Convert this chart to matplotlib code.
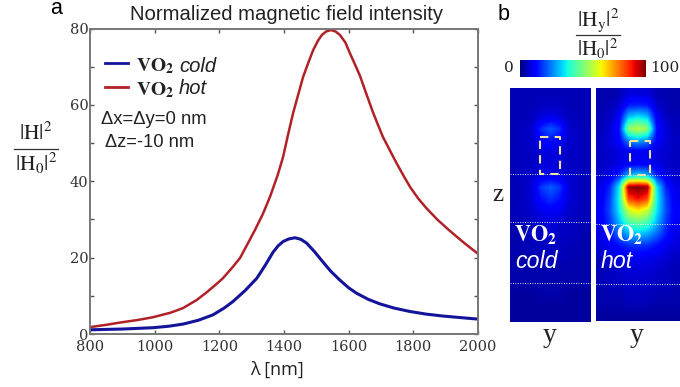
import numpy as np
import matplotlib
matplotlib.use("Agg")
import matplotlib.pyplot as plt

plt.rcParams['font.family'] = ['Liberation Sans', 'DejaVu Sans']
plt.rcParams['mathtext.fontset'] = 'stix'

W, H = 680, 387

# curves
hot_x = [800, 850, 893, 950, 995, 1050, 1088, 1130, 1162, 1190, 1211, 1240, 1264, 1295, 1310, 1335, 1357, 1380,
         1397, 1412, 1428, 1445, 1459, 1475, 1490, 1505, 1517, 1530, 1545, 1560, 1573, 1590, 1604, 1620, 1635,
         1655, 1675, 1690, 1706, 1728, 1749, 1770, 1790, 1815, 1842, 1875, 1913, 1955, 2000]
hot_y = [1.8, 2.4, 3.0, 3.7, 4.4, 5.6, 6.8, 8.9, 11.0, 13.0, 14.6, 17.4, 19.9, 24.8, 27.2, 31.5, 36.0, 41.5,
         46.3, 52.0, 57.8, 63.0, 67.3, 71.0, 74.3, 76.8, 78.3, 79.2, 79.6, 79.2, 78.3, 76.3, 73.5, 70.5, 67.6,
         62.8, 58.1, 54.9, 51.6, 48.0, 44.6, 41.4, 38.5, 35.5, 32.8, 29.9, 27.0, 24.0, 21.0]
cold_x = [800, 900, 995, 1045, 1088, 1135, 1180, 1215, 1242, 1280, 1316, 1342, 1366, 1382, 1397, 1415, 1434, 1452,
          1470, 1495, 1520, 1545, 1573, 1600, 1624, 1660, 1696, 1740, 1789, 1840, 1892, 1945, 2000]
cold_y = [1.1, 1.3, 1.65, 2.05, 2.6, 3.6, 5.0, 6.8, 8.5, 11.4, 14.6, 18.0, 21.4, 23.1, 24.2, 24.9, 25.2, 24.8,
          23.8, 21.5, 18.9, 16.4, 14.1, 12.1, 10.7, 9.1, 7.9, 6.8, 5.9, 5.2, 4.7, 4.3, 3.9]

# field maps, centre column out to the edge, 20 rows top to bottom
cold_map = [
    [5, 5, 5, 5, 5],
    [6, 6, 5, 5, 5],
    [10, 8, 6, 5, 5],
    [21, 17, 7, 6, 5],
    [14, 11, 7, 6, 5],
    [8, 8, 6, 6, 5],
    [8, 8, 6, 6, 5],
    [10, 9, 7, 6, 5],
    [22, 18, 8, 6, 5],
    [17, 14, 8, 6, 5],
    [11, 10, 7, 6, 5],
    [8, 7, 6, 5, 5],
    [7, 6, 6, 5, 4],
    [6, 6, 5, 5, 4],
    [5, 5, 5, 4, 4],
    [5, 4, 4, 4, 4],
    [4, 4, 4, 4, 4],
    [4, 4, 3, 3, 3],
    [3, 3, 3, 3, 3],
    [3, 3, 3, 3, 3],
]
hot_map = [
    [8, 8, 5, 4, 4],
    [16, 15, 7, 5, 4],
    [36, 32, 11, 6, 5],
    [58, 52, 14, 8, 5],
    [30, 26, 12, 8, 6],
    [10, 10, 8, 7, 6],
    [11, 11, 9, 7, 6],
    [34, 30, 16, 9, 7],
    [100, 98, 36, 16, 9],
    [90, 84, 38, 19, 10],
    [66, 60, 36, 20, 11],
    [48, 44, 31, 18, 10],
    [32, 30, 23, 15, 9],
    [18, 17, 14, 10, 8],
    [10, 10, 9, 8, 6],
    [8, 8, 7, 6, 5],
    [7, 7, 6, 6, 5],
    [6, 6, 5, 5, 4],
    [5, 5, 4, 4, 4],
    [3, 3, 3, 3, 3],
]
bar_values = np.linspace(0, 100, 256)


def box(x0, y0, x1, y1):
    return [x0 / W, 1 - y1 / H, (x1 - x0) / W, (y1 - y0) / H]


def put(x, y, s, **kw):
    kw.setdefault('ha', 'center')
    kw.setdefault('va', 'center')
    fig.text(x / W, 1 - y / H, s, **kw)


fig = plt.figure(figsize=(W / 100, H / 100), dpi=100)

# panel a
ax = fig.add_axes(box(90, 28.5, 478, 334))
ax.plot(hot_x, hot_y, color='#b02228', lw=1.8)
ax.plot(cold_x, cold_y, color='#14149a', lw=2.2)
ax.set_xlim(800, 2000)
ax.set_ylim(0, 80)
ax.set_xticks(range(800, 2001, 200))
ax.set_yticks(range(0, 81, 20))
ax.set_yticks(range(10, 80, 20), minor=True)
ax.tick_params(which='both', direction='in', top=True, right=True, length=3, width=1, color='#555555',
               labelcolor='#333333', labelsize=10.5)
ax.tick_params(axis='x', pad=4.5)
ax.tick_params(axis='y', pad=1)
for label in ax.get_xticklabels() + ax.get_yticklabels():
    label.set_family('DejaVu Serif')
for s in ax.spines.values():
    s.set_color('#777777')
    s.set_linewidth(1.4)

put(56, 9, 'a', fontsize=15.5)
put(286, 14, 'Normalized magnetic field intensity', fontsize=14.6, color='#222222')
put(277, 370, 'λ [nm]', fontsize=13, color='#222222', family=['Open Sans', 'DejaVu Sans'])

# legend by hand
fig.add_artist(plt.Line2D([105 / W, 128 / W], [1 - 63 / H] * 2, color='#14149a', lw=2))
fig.add_artist(plt.Line2D([105 / W, 128 / W], [1 - 87 / H] * 2, color='#b02228', lw=2))
put(136, 66, r'$\mathbf{VO_2}$', ha='left', fontsize=14, color='#222222')
put(179, 66, 'cold', ha='left', fontsize=14.6, style='italic', color='#222222')
put(136, 90, r'$\mathbf{VO_2}$', ha='left', fontsize=14, color='#222222')
put(179, 89, 'hot', ha='left', fontsize=14.5, style='italic', color='#222222')
put(101, 120, 'Δx=Δy=0 nm', ha='left', fontsize=13.3, color='#222222')
put(105, 142, 'Δz=-10 nm', ha='left', fontsize=13.2, color='#222222')

# y label fraction
put(36, 134, r'$|\mathrm{H}|^2$', fontsize=15.5, color='#222222')
fig.add_artist(plt.Line2D([14 / W, 58 / W], [1 - 148.5 / H] * 2, color='#333333', lw=0.9))
put(36, 163, r'$|\mathrm{H_0}|^2$', fontsize=15.5, color='#222222')

# panel b
put(504, 15, 'b', fontsize=15.5)
put(598, 20, r'$|\mathrm{H_y}|^2$', fontsize=15.5, color='#222222')
fig.add_artist(plt.Line2D([576 / W, 620 / W], [1 - 35 / H] * 2, color='#333333', lw=0.9))
put(598, 49, r'$|\mathrm{H_0}|^2$', fontsize=15, color='#222222')

cax = fig.add_axes(box(520, 60, 646, 77))
cax.imshow(bar_values[None, :], aspect='auto', cmap='jet', vmin=0, vmax=100)
cax.axis('off')
put(509, 68, '0', fontsize=11, family='DejaVu Serif', color='#222222')
put(665, 68, '100', fontsize=11, family='DejaVu Serif', color='#222222')

panels = [
    (cold_map, (510, 88, 591, 322), (540, 137, 560, 174), [174, 222, 283], 'cold'),
    (hot_map, (596, 88, 680, 321), (630, 141, 650, 175), [175, 223.5, 284], 'hot'),
]
for grid, (x0, y0, x1, y1), (rx0, ry0, rx1, ry1), dots, name in panels:
    half = np.array(grid, dtype=float)
    full = np.hstack([half[:, :0:-1], half])
    p = fig.add_axes(box(x0, y0, x1, y1))
    p.imshow(full, aspect='auto', cmap='jet', vmin=0, vmax=100, interpolation='bilinear',
             extent=(x0, x1, y1, y0))
    p.set_xlim(x0, x1)
    p.set_ylim(y1, y0)
    for yy in dots:
        p.axhline(yy, color='white', lw=0.7, ls=(0, (1, 1.5)), alpha=0.9)
    p.plot([rx0, rx1, rx1, rx0, rx0], [ry0, ry0, ry1, ry1, ry0], color='#f0e49a', lw=1.5, ls=(0, (4, 3)))
    p.set_xticks([])
    p.set_yticks([])
    for s in p.spines.values():
        s.set_visible(False)
    put(x0 + 4, 235, r'$\mathbf{VO_2}$', ha='left', fontsize=16, color='white')
    put(x0 + 5, 262, name, ha='left', fontsize=16.7, style='italic', color='white')
    put((x0 + x1) / 2 - 1, 335, 'y', fontsize=20, family='Liberation Serif', color='#222222')

put(498, 195, 'z', fontsize=18, family='Liberation Serif', color='#222222')

fig.savefig('out.png', dpi=100)
